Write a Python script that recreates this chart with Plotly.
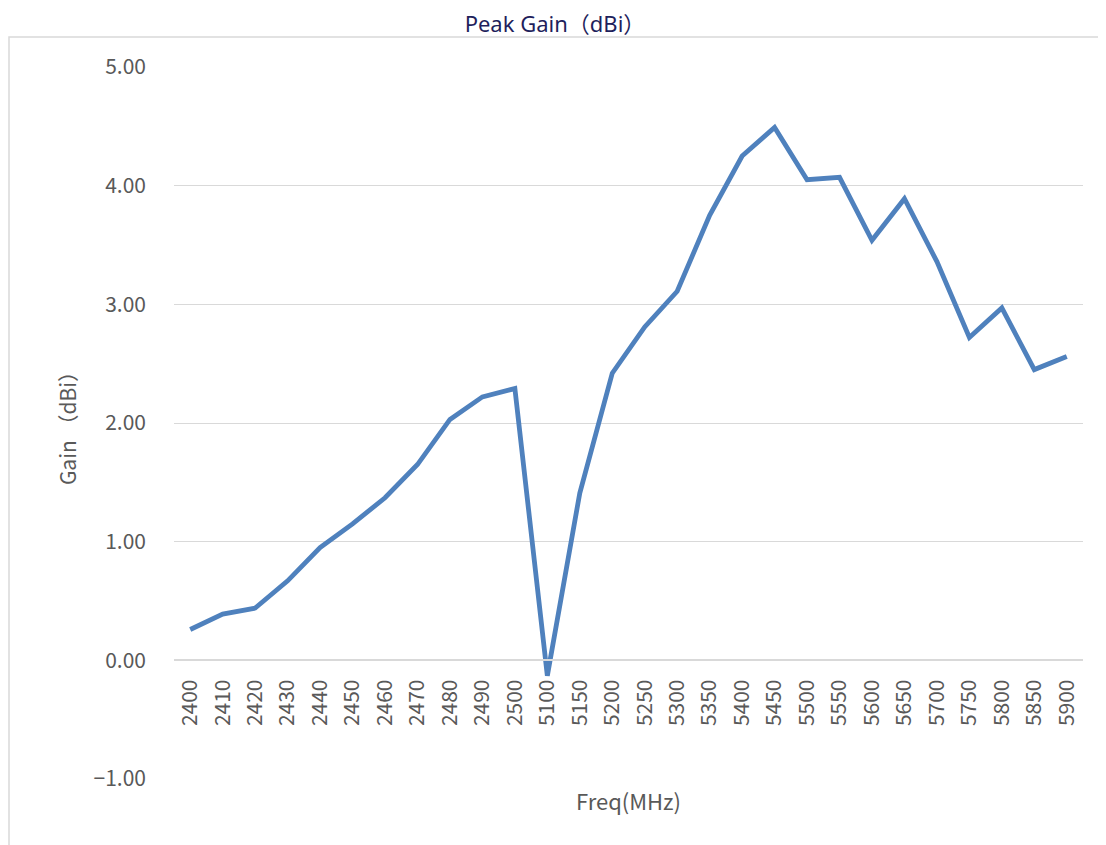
import plotly.graph_objects as go

freq_labels = ["2400", "2410", "2420", "2430", "2440", "2450", "2460", "2470", "2480", "2490", "2500",
               "5100", "5150", "5200", "5250", "5300", "5350", "5400", "5450", "5500", "5550",
               "5600", "5650", "5700", "5750", "5800", "5850", "5900"]
gain_dbi = [0.26, 0.39, 0.44, 0.67, 0.95, 1.15, 1.37, 1.65, 2.03, 2.22, 2.29,
            -0.13, 1.41, 2.42, 2.81, 3.11, 3.75, 4.25, 4.49, 4.05, 4.07,
            3.54, 3.89, 3.36, 2.72, 2.97, 2.45, 2.56]

y_ticks = [-1, 0, 1, 2, 3, 4, 5]

# page body has an 8px margin, so figure coords = screen coords - 8
OFF = 8
W, H = 1106, 845
ML = 174 - OFF
MT = 67 - OFF
MR = W - (1083 - OFF)
MB = H - (779 - OFF)
pw = W - ML - MR
ph = H - MT - MB

grid = "#D9D9D9"
tick_col = "#595959"
font_fam = "Noto Sans CJK SC, Noto Sans, sans-serif"
title_fam = "Noto Sans, Noto Sans CJK SC, sans-serif"

fig = go.Figure()
fig.add_trace(go.Scatter(
    x=freq_labels, y=gain_dbi, mode="lines",
    line=dict(color="#4F81BD", width=4.8, shape="linear"),
    hoverinfo="x+y", showlegend=False,
))

ymin, ymax = -1, 5
fig.update_layout(
    width=W, height=H,
    margin=dict(l=ML, r=MR, t=MT, b=MB, pad=0),
    paper_bgcolor="white", plot_bgcolor="white",
    font=dict(family=font_fam, color=tick_col, size=21),
    title=dict(text="Peak Gain（dBi）", x=(555 - OFF) / W, xanchor="center", xref="container",
               y=1 - (24 - OFF) / H, yanchor="middle", yref="container",
               font=dict(family=title_fam, size=22, color="#1F1F5C")),
    xaxis=dict(
        type="category", range=[-0.5, len(freq_labels) - 0.5],
        anchor="free", position=(0 - ymin) / (ymax - ymin),
        showgrid=False, showline=True, linecolor=grid, linewidth=1.5,
        ticks="", tickangle=-90, ticklabelstandoff=10,
        tickfont=dict(size=21, color=tick_col, family=font_fam),
        zeroline=False,
    ),
    yaxis=dict(
        range=[ymin, ymax], tickvals=y_ticks, tickformat=".2f",
        showgrid=True, gridcolor=grid, gridwidth=1.3,
        zeroline=False, showline=False, ticks="",
        ticklabelstandoff=27,
        tickfont=dict(size=21, color=tick_col, family=font_fam),
        title=dict(text="Gain （dBi）", standoff=11,
                   font=dict(size=21, color=tick_col, family=font_fam)),
    ),
)

# x-axis title below plot
fig.add_annotation(text="Freq(MHz)", xref="paper", yref="paper", x=0.5, y=-(800 - 779) / ph,
                   xanchor="center", yanchor="middle", showarrow=False,
                   font=dict(size=22, color=tick_col, family=font_fam))

# chart border (partially cropped)
fig.add_shape(type="rect", xref="paper", yref="paper",
              x0=(9 - 174) / pw, x1=1.3, y0=-0.3, y1=(779 - 37) / ph,
              line=dict(color=grid, width=1.5), fillcolor="rgba(0,0,0,0)", layer="below")

fig.write_html("out.html")
